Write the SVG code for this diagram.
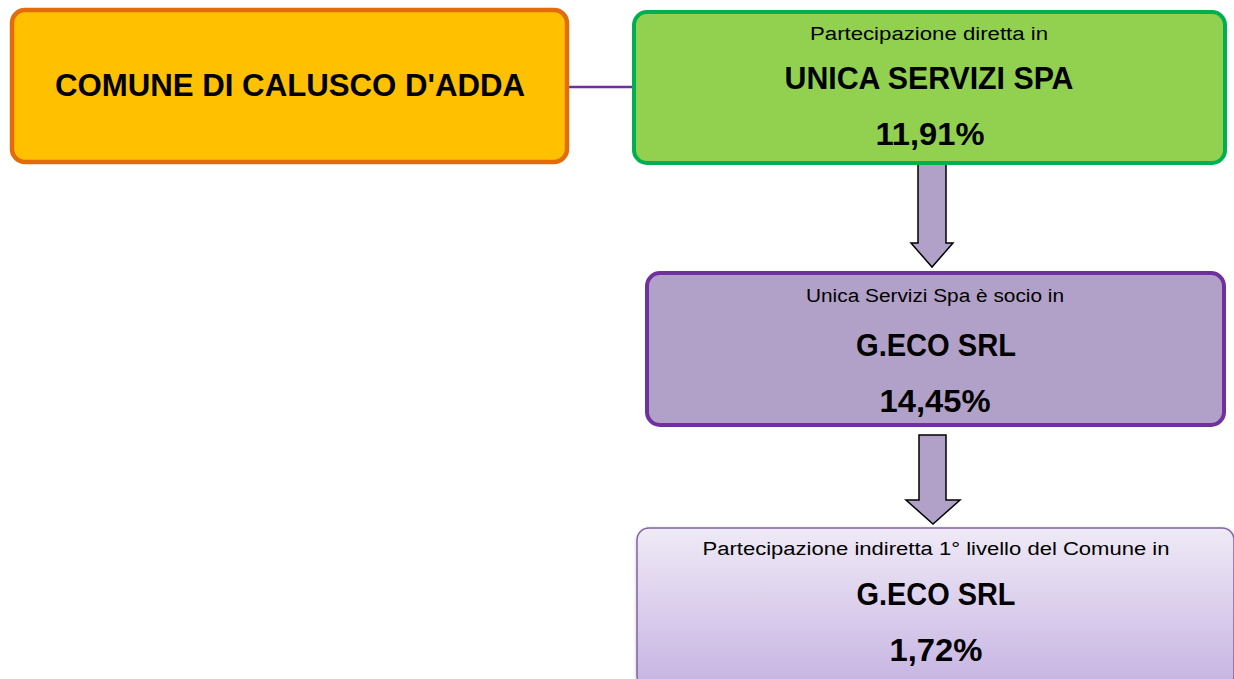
<svg xmlns="http://www.w3.org/2000/svg" width="1234" height="679" viewBox="0 0 1234 679">
<style>
text{font-family:"Liberation Sans",Arial,sans-serif;fill:#000;text-anchor:middle}
.b{font-weight:bold;font-size:32px}
.s{font-size:18px}
.arrow{fill:#B1A0C7;stroke:#000;stroke-width:1.5;stroke-linejoin:miter}
</style>
<defs>
<linearGradient id="g3" x1="0" y1="0" x2="0" y2="1">
<stop offset="0" stop-color="#EFEAF6"/>
<stop offset="1" stop-color="#C6B3E2"/>
</linearGradient>
<filter id="sh" x="-5%" y="-5%" width="110%" height="115%">
<feDropShadow dx="1" dy="2" stdDeviation="2" flood-color="#000" flood-opacity="0.35"/>
</filter>
</defs>
<rect width="1234" height="679" fill="#fff"/>
<g id="connectors">
<line x1="567" y1="87" x2="636" y2="87" stroke="#7030A0" stroke-width="2.5"/>
<path class="arrow" d="M918,164 L946,164 L946,243 L953,243 L932,267 L911,243 L918,243 Z"/>
<path class="arrow" d="M919,435 L946,435 L946,500 L960,500 L933,524 L906,500 L919,500 Z"/>
</g>
<g id="comune">
<rect x="12" y="10" width="555" height="152" rx="13" fill="#FFC000" stroke="#E36C0A" stroke-width="4.5"/>
<text class="b" x="290" y="96" textLength="470" lengthAdjust="spacingAndGlyphs">COMUNE DI CALUSCO D'ADDA</text>
</g>
<g id="unica">
<rect x="634" y="12" width="591" height="151" rx="13" fill="#92D050" stroke="#00B050" stroke-width="4"/>
<text class="s" x="929" y="40" textLength="238" lengthAdjust="spacingAndGlyphs">Partecipazione diretta in</text>
<text class="b" x="929" y="89" textLength="289" lengthAdjust="spacingAndGlyphs">UNICA SERVIZI SPA</text>
<text class="b" x="930" y="145" textLength="109" lengthAdjust="spacingAndGlyphs">11,91%</text>
</g>
<g id="geco">
<rect x="647" y="273" width="577" height="152" rx="13" fill="#B1A0C7" stroke="#7030A0" stroke-width="4"/>
<text class="s" x="935" y="302" textLength="258" lengthAdjust="spacingAndGlyphs">Unica Servizi Spa è socio in</text>
<text class="b" x="936" y="356" textLength="160" lengthAdjust="spacingAndGlyphs">G.ECO SRL</text>
<text class="b" x="935" y="412" textLength="111" lengthAdjust="spacingAndGlyphs">14,45%</text>
</g>
<g id="indiretta">
<rect x="637" y="528" width="597" height="160" rx="12" fill="url(#g3)" stroke="#8064A2" stroke-width="1.5" filter="url(#sh)"/>
<text class="s" x="936" y="555" textLength="467" lengthAdjust="spacingAndGlyphs">Partecipazione indiretta 1° livello del Comune in</text>
<text class="b" x="936" y="605" textLength="159" lengthAdjust="spacingAndGlyphs">G.ECO SRL</text>
<text class="b" x="936" y="661" textLength="93" lengthAdjust="spacingAndGlyphs">1,72%</text>
</g>
</svg>
